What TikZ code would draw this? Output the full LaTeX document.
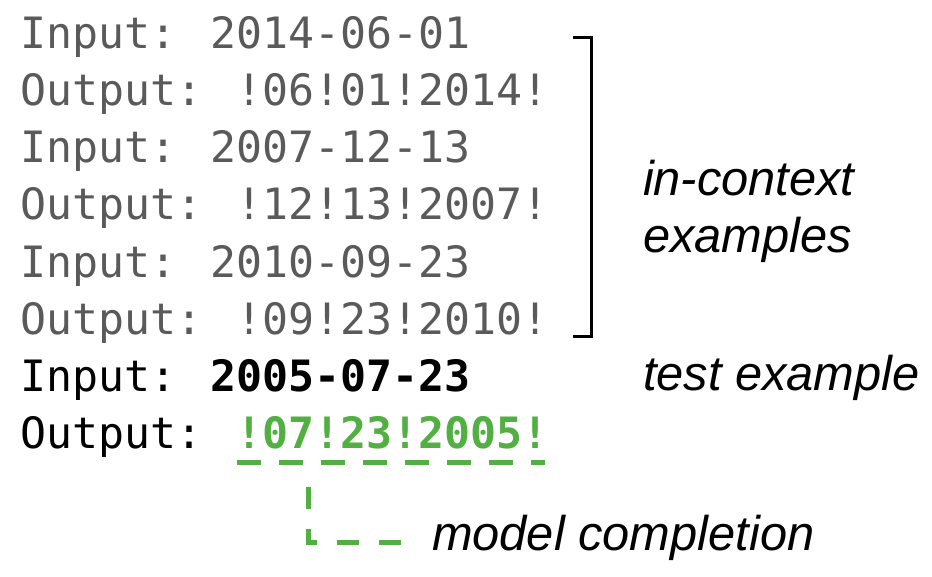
\documentclass[tikz,border=0pt]{standalone}
\usepackage{fontspec}
\newfontfamily\codefont{DejaVu Sans Mono}
\newfontfamily\labelfont{Liberation Sans}
\definecolor{codegray}{RGB}{90,90,90}
\definecolor{compgreen}{RGB}{82,176,66}
\begin{document}
\begin{tikzpicture}[x=1pt,y=1pt,
  codeline/.style={anchor=base west,inner sep=0pt,outer sep=0pt,font=\codefont\fontsize{43.2}{50}\selectfont},
  ctxline/.style={codeline,text=codegray},
  testline/.style={codeline,text=black},
  lbl/.style={anchor=base west,inner sep=0pt,outer sep=0pt,font=\labelfont\itshape\fontsize{48.8}{57}\selectfont},
  brack/.style={draw=black,line width=3pt},
  greendash/.style={draw=compgreen,line width=5pt,dash pattern=on 24pt off 18pt}
]
\useasboundingbox (0,0) rectangle (932,-576);
\node[ctxline] (l1) at (20,-48) {Input: 2014-06-01};
\node[ctxline] (l2) at (20,-105) {Output: !06!01!2014!};
\node[ctxline] (l3) at (20,-162) {Input: 2007-12-13};
\node[ctxline] (l4) at (20,-219) {Output: !12!13!2007!};
\node[ctxline] (l5) at (20,-277) {Input: 2010-09-23};
\node[ctxline] (l6) at (20,-334) {Output: !09!23!2010!};
\node[testline] (l7) at (20,-391) {Input: \textbf{2005-07-23}};
\node[testline] (l8) at (20,-448) {Output: \textcolor{compgreen}{\textbf{!07!23!2005!}}};

\node[lbl] (ctx1) at (643,-195) {in-context};
\node[lbl] (ctx2) at (643,-252) {examples};
\node[lbl] (test) at (643,-390) {test example};
\node[lbl] (model) at (432,-550) {model completion};

% bracket
\coordinate (bt) at (573,-37);
\coordinate (bb) at (573,-336);
\draw[brack] (bt) -- ++(18,0) |- (bb);

% dashed underline
\coordinate (ul) at (237,-462);
\coordinate (ur) at (545,-462);
\draw[greendash] (ul) -- (ur);

% connector to label
\coordinate (ct) at (308,-487);
\coordinate (ce) at (404,-542);
\draw[greendash,dash pattern=on 22pt off 20pt] (ct) |- (ce);
\end{tikzpicture}
\end{document}
